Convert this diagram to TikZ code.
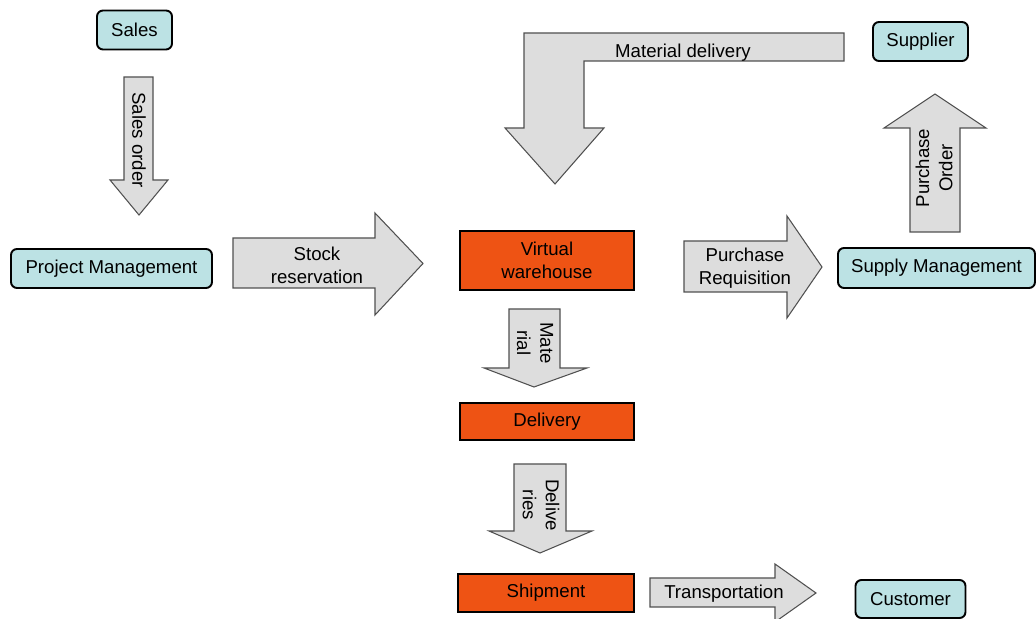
\documentclass[tikz,border=0pt]{standalone}
\usepackage{fontspec}
\setmainfont{Liberation Sans}
\definecolor{tealbox}{RGB}{188,226,228}
\definecolor{orangebox}{RGB}{238,83,20}
\definecolor{arrowgray}{RGB}{221,221,221}
\definecolor{arrowline}{RGB}{80,80,80}
\begin{document}
\begin{tikzpicture}[x=0.2mm, y=0.2mm,
  every node/.style={inner sep=0pt, font=\fontsize{10.6}{13.2}\selectfont},
  unit/.style={draw=black, line width=1.1pt, rounded corners=0.12cm, fill=tealbox, minimum height=0.78cm},
  store/.style={draw=black, line width=1.1pt, fill=orangebox, minimum width=3.48cm},
  flow/.style={draw=arrowline, line width=0.6pt, fill=arrowgray, line join=miter},
  lbl/.style={align=center}]
\useasboundingbox (0,0) rectangle (1036,-619);
\node (sales) [unit, minimum width=1.5cm] at (134.5,-30) {Sales};
\node (pm) [unit, minimum width=4.02cm] at (111.5,-268.5) {Project Management};
\node (supplier) [unit, minimum width=1.9cm] at (920.5,-41.5) {Supplier};
\node (sm) [unit, minimum width=3.94cm, minimum height=0.8cm] at (936.5,-268) {Supply Management};
\node (customer) [unit, minimum width=2.2cm, minimum height=0.76cm] at (910.5,-599) {Customer};
\node (vw) [store, minimum height=1.18cm, lbl] at (547,-260.5) {Virtual\\warehouse};
\node (delivery) [store, minimum height=0.74cm] at (547,-421.5) {Delivery};
\node (shipment) [store, minimum width=3.52cm, minimum height=0.76cm] at (546,-593) {Shipment};
\draw [flow] (124,-77) -- (153,-77) -- (153,-180) -- (168,-180) -- (139,-215) -- (110,-180) -- (124,-180) -- cycle;
\node (salesorder) [rotate=-90] at (139,-140) {Sales order};
\draw [flow] (233,-238) -- (375,-238) -- (375,-213) -- (423,-263.5) -- (375,-315) -- (375,-288) -- (233,-288) -- cycle;
\node (stockres) [lbl] at (317,-265) {Stock\\reservation};
\draw [flow] (844,-33) -- (844,-61) -- (584,-61) -- (584,-128) -- (604,-128) -- (555,-184) -- (505,-128) -- (524,-128) -- (524,-33) -- cycle;
\node (matdel) at (683,-53) {Material delivery};
\draw [flow] (910,-232) -- (960,-232) -- (960,-128) -- (986,-128) -- (935,-94) -- (884,-128) -- (910,-128) -- cycle;
\node (po) [lbl, rotate=90] at (934,-168) {Purchase\\Order};
\draw [flow] (684,-241) -- (787,-241) -- (787,-216) -- (822,-267) -- (787,-318) -- (787,-292) -- (684,-292) -- cycle;
\node (preq) [lbl] at (745,-268) {Purchase\\Requisition};
\draw [flow] (509,-309) -- (560,-309) -- (560,-368) -- (587,-368) -- (534,-387) -- (484,-368) -- (509,-368) -- cycle;
\node (material) [lbl, rotate=-90] at (535,-343) {Mate\\rial};
\draw [flow] (514,-464) -- (566,-464) -- (566,-531) -- (592,-531) -- (540,-553) -- (489,-531) -- (514,-531) -- cycle;
\node (deliveries) [lbl, rotate=-90] at (541,-505) {Delive\\ries};
\draw [flow] (650,-578) -- (775,-578) -- (775,-564) -- (816,-593) -- (775,-622) -- (775,-607) -- (650,-607) -- cycle;
\node (transport) at (724,-594) {Transportation};
\end{tikzpicture}
\end{document}
